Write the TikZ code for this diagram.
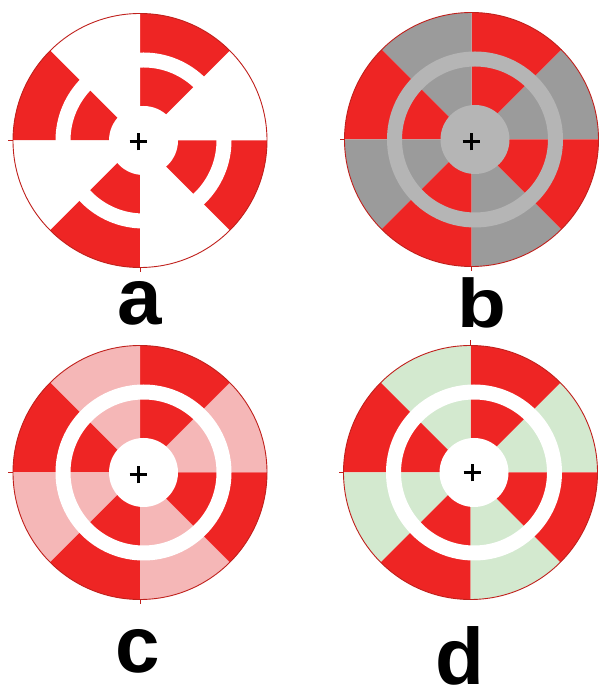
\documentclass[tikz,border=0pt]{standalone}
\usepackage{fontspec}
\setmainfont{Liberation Sans}
\usepackage{graphicx}
\definecolor{tred}{HTML}{EE2524}
\definecolor{tgray}{HTML}{9B9B9B}
\definecolor{tlgray}{HTML}{B5B5B5}
\definecolor{tpink}{HTML}{F5B7B7}
\definecolor{tgreen}{HTML}{D3E9CF}
\definecolor{trim}{HTML}{C0201C}
\tikzset{
  rim/.style={draw=trim, line width=0.9pt},
  plusmark/.style={draw=black, line width=3pt},
  lab/.style={inner sep=0pt, font=\fontsize{80}{96}\selectfont\bfseries},
}
% #1 name, #2 cx, #3 cy, #4 other colour, #5 ring colour, #6 centre colour
\newcommand\targetdisc[6]{%
  \coordinate (#1) at (#2,#3);
  \coordinate (#1r) at (#2+3.5,#3);
  \foreach \s/\c in {0/#4,45/tred,90/#4,135/tred,180/#4,225/tred,270/#4,315/tred}
    \fill[\c] (#1) -- ++(\s:127) arc[start angle=\s, delta angle=45, radius=127] -- cycle;
  \fill[#5, even odd rule] (#1r) circle[radius=88] (#1r) circle[radius=73];
  \fill[#6] (#1r) circle[radius=34.5];
  \draw[rim] (#1) circle[radius=127];
}
\begin{document}
\begin{tikzpicture}[x=1pt,y=1pt]
\useasboundingbox (0,0) rectangle (600,688);
\fill[white] (0,0) rectangle (600,688);

\targetdisc{A}{140}{547.5}{white}{white}{white}
\targetdisc{B}{471.5}{548.5}{tgray}{tlgray}{tlgray}
\targetdisc{C}{140}{215.5}{tpink}{white}{white}
\targetdisc{D}{470.5}{215.5}{tgreen}{white}{white}

% small ticks
\draw[rim] (A) ++(-127,0) -- ++(-5,0);
\draw[rim] (A) ++(0,-127) -- ++(0,-5);
\draw[rim] (B) ++(-127,0) -- ++(-5,0);
\draw[rim] (B) ++(0,-127) -- ++(0,-5);
\draw[rim] (C) ++(-127,0) -- ++(-5,0);
\draw[rim] (C) ++(0,-127) -- ++(0,-5);
\draw[rim] (D) ++(-127,0) -- ++(-5,0);
\draw[rim] (D) ++(0,127) -- ++(0,5);

% fixation crosses
\coordinate (pA) at (138,546);
\coordinate (pB) at (471,546);
\coordinate (pC) at (138,213);
\coordinate (pD) at (472,215);
\foreach \p in {pA,pB,pC,pD}
  \draw[plusmark] (\p) ++(-8.5,0) -- ++(17,0) (\p) ++(0,-8.5) -- ++(0,17);

% labels
\node[lab, anchor=base] (la) at (139.5,363) {a};
\node[lab, anchor=base] (lb) at (482,360) {\scalebox{1}[0.86]{b}};
\node[lab, anchor=base] (lc) at (137.5,16) {c};
\node[lab, anchor=base] (ld) at (460,4) {d};
\end{tikzpicture}
\end{document}
